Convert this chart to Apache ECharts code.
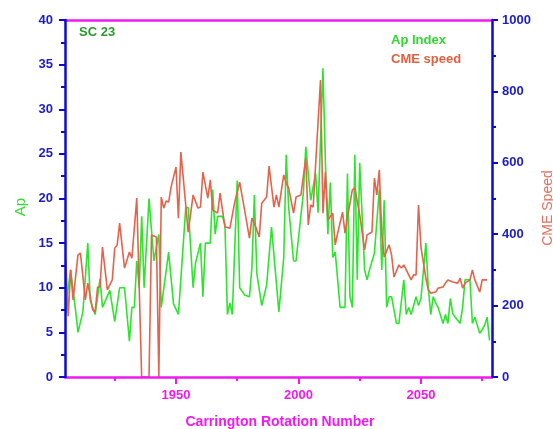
<!DOCTYPE html>
<html>
<head>
<meta charset="utf-8">
<script src="https://cdn.jsdelivr.net/npm/echarts@6/dist/echarts.min.js"></script>
<style>html,body{margin:0;padding:0;background:#fff;}#c{width:553px;height:429px;}</style>
</head>
<body>
<div id="c"></div>
<script>
// Carrington rotations and Ap index (vertices)
var apRotations = [1905,1906,1907,1909,1910,1912,1914,1915,1917,1919,1920,1923,1925,1927,1929,1931,1932,1933,1934,1935,1936,1937,1939,1941,1943,1944,1947,1949,1951,1954,1955,1957,1958,1960,1961,1962,1964,1965,1966,1967,1969,1970,1971,1972,1973,1975,1976,1978,1980,1981,1982,1983,1985,1987,1989,1992,1994,1995,1996,1998,1999,2002,2003,2005,2007,2008,2010,2011,2012,2013,2014,2015,2017,2019,2020,2021,2022,2023,2024,2025,2027,2028,2029,2031,2033,2034,2035,2036,2037,2038,2040,2041,2043,2044,2045,2046,2048,2049,2050,2052,2053,2054,2055,2056,2057,2059,2060,2061,2062,2063,2064,2066,2067,2068,2069,2070,2071,2072,2074,2075,2076,2077,2078];
var apValues = [7,10,12,7.5,5,7.3,15,8.6,7,11,7.8,9.7,6.2,10,10,4,7.8,7.8,13,10,18,10,20,13,16,7.8,14,8.2,7,19,19,10,12.8,15,9,15,15,21,16,18,18,17,7,8.3,7,22,10,9.2,9,12.3,20.4,11.6,8,10.3,16.8,7.3,13.4,24.9,19,13,13,20.6,25.8,19.8,22.8,18.4,34.6,24,16,21.8,13.4,14,7.8,7.8,22.8,9,7.8,24.9,10.9,24,12,10.9,12,13.9,21,12,19.8,7.8,9,9,6,6,10.9,7,7.8,7,9,8,8.8,15,10,7,9,8.3,7.8,6,7,6,8.8,7.1,6.7,6,7.8,10.9,10.9,10.9,6,6.7,4.9,5.3,5.8,6.7,4.1];

// Carrington rotations and CME speed (vertices)
var cmeRotations = [1905,1906,1907,1908,1910,1911,1913,1914,1916,1917,1918,1919,1920,1922,1924,1925,1926,1927,1929,1931,1932,1934,1936,1939,1940,1942,1943,1944,1945,1946,1947,1948,1950,1951,1952,1955,1957,1959,1960,1961,1963,1964,1965,1967,1968,1970,1972,1974,1976,1978,1980,1981,1982,1984,1985,1987,1988,1990,1991,1992,1994,1995,1996,1998,1999,2001,2003,2004,2005,2006,2009,2010,2011,2012,2014,2015,2016,2018,2019,2020,2022,2023,2025,2027,2028,2030,2031,2032,2033,2034,2035,2037,2038,2039,2041,2042,2043,2044,2046,2047,2048,2049,2050,2052,2053,2054,2056,2057,2059,2060,2061,2063,2065,2066,2067,2068,2070,2071,2072,2074,2075,2077];
var cmeValues = [330,170,300,216,342,347,216,263,188,182,252,252,364,244,272,361,370,431,305,350,333,501,0,0,398,392,0,504,473,493,490,532,588,445,630,406,510,473,476,574,501,552,468,459,515,420,417,490,546,468,389,445,431,392,487,504,591,476,510,476,566,543,529,459,504,510,613,426,482,476,832,459,574,440,459,370,403,462,403,448,524,529,454,356,398,406,557,510,580,403,336,370,342,280,314,305,314,300,272,286,286,482,364,277,244,235,238,249,252,263,272,266,263,277,249,263,272,300,272,238,272,272];

var majorTicks = [1950, 2000, 2050];
var minorTicks = [1925, 1975, 2025, 2075];

var BLUE = '#0a0ad8', MAG = '#f01af0', GREEN = '#2fe42f', RED = '#e2644c';

function pairs(xs, ys) { return xs.map(function (x, i) { return [x, ys[i]]; }); }
function plain(v) { return String(v); }

var chart = echarts.init(document.getElementById('c'));
var labelFont = { fontFamily: 'Liberation Sans, Arial, sans-serif', fontWeight: 'bold', fontSize: 13, formatter: plain };

chart.setOption({
  animation: false,
  backgroundColor: '#ffffff',
  grid: { left: 65, right: 61, top: 20, bottom: 52 },
  xAxis: [
    {
      type: 'value', min: 1904.7, max: 2079, position: 'bottom', z: 5,
      axisLine: { lineStyle: { color: MAG, width: 2.5 } },
      axisTick: { show: true, customValues: majorTicks, length: 7, lineStyle: { color: MAG, width: 2 } },
      axisLabel: Object.assign({ customValues: majorTicks, color: MAG, margin: 12 }, labelFont),
      splitLine: { show: false }
    },
    {
      type: 'value', min: 1904.7, max: 2079, position: 'bottom', z: 5,
      axisLine: { show: false },
      axisTick: { show: true, customValues: minorTicks, length: 4, lineStyle: { color: MAG, width: 2 } },
      axisLabel: { show: false },
      splitLine: { show: false }
    },
    {
      type: 'value', min: 1904.7, max: 2079, position: 'top', z: 5,
      axisLine: { lineStyle: { color: MAG, width: 2.5 } },
      axisTick: { show: false }, axisLabel: { show: false }, splitLine: { show: false }
    }
  ],
  yAxis: [
    {
      type: 'value', min: 0, max: 40, interval: 5, position: 'left', z: 6,
      axisLine: { show: true, lineStyle: { color: BLUE, width: 2.5 } },
      axisTick: { show: true, length: 6, lineStyle: { color: BLUE, width: 2 } },
      minorTick: { show: true, splitNumber: 2, length: 4, lineStyle: { color: BLUE, width: 2 } },
      axisLabel: Object.assign({ color: '#1c1cc8', margin: 12 }, labelFont),
      splitLine: { show: false }
    },
    {
      type: 'value', min: 0, max: 1000, interval: 200, position: 'right', z: 6,
      axisLine: { show: true, lineStyle: { color: BLUE, width: 2.5 } },
      axisTick: { show: true, length: 6, lineStyle: { color: BLUE, width: 2 } },
      minorTick: { show: true, splitNumber: 2, length: 4, lineStyle: { color: BLUE, width: 2 } },
      axisLabel: Object.assign({ color: '#1c1cc8', margin: 10 }, labelFont),
      splitLine: { show: false }
    }
  ],
  series: [
    {
      name: 'Ap Index', type: 'line', xAxisIndex: 0, yAxisIndex: 0,
      data: pairs(apRotations, apValues), showSymbol: false, z: 2,
      lineStyle: { color: GREEN, width: 1.6 }, itemStyle: { color: GREEN }
    },
    {
      name: 'CME speed', type: 'line', xAxisIndex: 0, yAxisIndex: 1,
      data: pairs(cmeRotations, cmeValues), showSymbol: false, z: 3,
      lineStyle: { color: RED, width: 1.6 }, itemStyle: { color: RED }
    }
  ],
  graphic: [
    { type: 'text', left: 79, top: 26, style: { text: 'SC 23', fill: '#2a9a2a', font: 'bold 13px "Liberation Sans", Arial, sans-serif' } },
    { type: 'text', left: 391, top: 34, style: { text: 'Ap Index', fill: '#33d633', font: 'bold 13px "Liberation Sans", Arial, sans-serif' } },
    { type: 'text', left: 391, top: 53, style: { text: 'CME speed', fill: '#e0603f', font: 'bold 13px "Liberation Sans", Arial, sans-serif' } },
    { type: 'text', x: 280, y: 422, style: { text: 'Carrington Rotation Number', fill: MAG, font: 'bold 14px "Liberation Sans", Arial, sans-serif', align: 'center', verticalAlign: 'middle' } },
    { type: 'text', x: 21, y: 207, rotation: Math.PI / 2, style: { text: 'Ap', fill: '#33dd33', font: '15px "Liberation Sans", Arial, sans-serif', align: 'center', verticalAlign: 'middle' } },
    { type: 'text', x: 548, y: 208, rotation: Math.PI / 2, style: { text: 'CME Speed', fill: '#e07060', font: '14px "Liberation Sans", Arial, sans-serif', align: 'center', verticalAlign: 'middle' } }
  ]
});
</script>
</body>
</html>
